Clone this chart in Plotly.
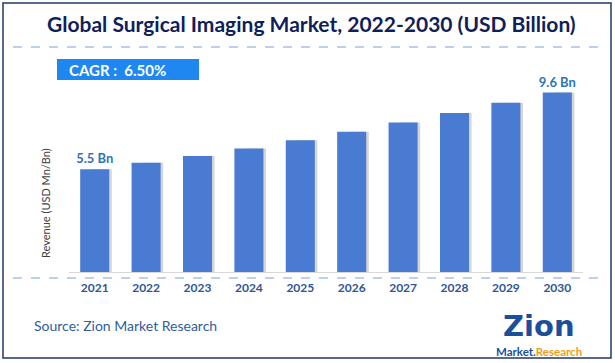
import plotly.graph_objects as go

years = ["2021", "2022", "2023", "2024", "2025", "2026", "2027", "2028", "2029", "2030"]
revenue = [5.5, 5.85, 6.2, 6.6, 7.05, 7.5, 8.0, 8.5, 9.05, 9.6]
bar_labels = ["5.5 Bn", "", "", "", "", "", "", "", "", "9.6 Bn"]

TITLE = "Global Surgical Imaging Market, 2022-2030 (USD Billion)"
CAGR = "CAGR :  6.50%"
SOURCE = "Source: Zion Market Research"
YTITLE = "Revenue (USD Mn/Bn)"

FONT = "Lato"
BAR = "#4a7bd3"
W = 0.565

# plot-area geometry in pixels
L, R, T, B = 69, 32, 80, 91
PW, PH = 615 - L - R, 363 - T - B


def px(x):
    return (x - L) / PW


def py(y):
    return (T + PH - y) / PH


fig = go.Figure()
fig.add_trace(go.Bar(x=years, y=revenue, width=W * 0.7, offset=-W / 2 + 0.22,
                     marker=dict(color="rgba(120,120,120,0.30)", line=dict(width=0)),
                     hoverinfo="skip", showlegend=False))
fig.add_trace(go.Bar(x=years, y=revenue, width=W, offset=-W / 2,
                     marker=dict(color=BAR, line=dict(width=0)),
                     text=bar_labels, textposition="outside", cliponaxis=False,
                     constraintext="none",
                     textfont=dict(family=FONT, size=13, color="#2e75b6", weight="bold"),
                     hoverinfo="x+y", showlegend=False))

shapes = [
    dict(type="rect", xref="paper", yref="paper", x0=px(3), x1=px(611), y0=py(358), y1=py(3),
         line=dict(color="#1f3864", width=1.5)),
    dict(type="line", xref="paper", yref="paper", x0=px(13), x1=px(601), y0=py(47), y1=py(47),
         line=dict(color="#7f9fd8", width=1, dash="dash")),
    dict(type="line", xref="paper", yref="paper", x0=px(13), x1=px(601), y0=py(278), y1=py(278),
         line=dict(color="#7f9fd8", width=1, dash="dash")),
    dict(type="rect", xref="paper", yref="paper", x0=px(57), x1=px(199), y0=py(80), y1=py(59),
         fillcolor="#1e88f0", line=dict(width=0)),
]
annotations = [
    dict(text="<b>" + TITLE + "</b>", xref="paper", yref="paper", x=px(311), y=py(23),
         xanchor="center", yanchor="middle", showarrow=False,
         font=dict(family=FONT, size=21, color="#0f1f5a", weight=900)),
    dict(text="<b>" + CAGR + "</b>", xref="paper", yref="paper", x=px(67), y=py(69.5),
         xanchor="left", yanchor="middle", showarrow=False,
         font=dict(family=FONT, size=15, color="white")),
    dict(text=YTITLE, xref="paper", yref="paper", x=px(45), y=py(203), textangle=-90,
         xanchor="center", yanchor="middle", showarrow=False,
         font=dict(family=FONT, size=11, color="#404040")),
    dict(text=SOURCE, xref="paper", yref="paper", x=px(32), y=py(325),
         xanchor="left", yanchor="middle", showarrow=False,
         font=dict(family=FONT, size=14, color="#2e5e9e")),
    dict(text="<b>Zion</b>", xref="paper", yref="paper", x=px(539), y=py(326),
         xanchor="center", yanchor="middle", showarrow=False, borderpad=0,
         font=dict(family="DejaVu Sans", size=29, color="#1b4f9c")),
    dict(text="<b><span style='color:#1b4f9c'>Market.</span><span style='color:#f39c12'>Research</span></b>",
         xref="paper", yref="paper", x=px(539), y=py(351),
         xanchor="center", yanchor="middle", showarrow=False, borderpad=0,
         font=dict(family=FONT, size=11.5)),
]

fig.update_layout(
    width=615, height=363,
    margin=dict(l=L, r=R, t=T, b=B, autoexpand=False),
    paper_bgcolor="white", plot_bgcolor="white",
    barmode="overlay",
    font=dict(family=FONT),
    xaxis=dict(showgrid=False, showline=True, linecolor="#d9d9d9", linewidth=1,
               ticks="outside", ticklen=5, tickcolor="rgba(0,0,0,0)",
               tickfont=dict(family=FONT, size=12, color="#2f5597", weight="bold"),
               fixedrange=True),
    yaxis=dict(range=[0, 10.27], showgrid=False, showticklabels=False, zeroline=False,
               showline=False, fixedrange=True),
    shapes=shapes,
    annotations=annotations,
)

fig.write_html("out.html", config={"displayModeBar": False},
               post_script="document.body.style.margin='0';")
